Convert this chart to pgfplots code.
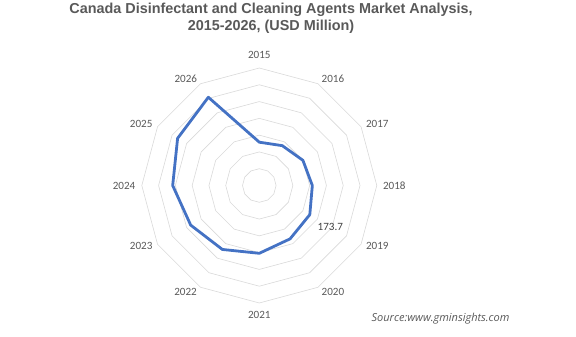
\documentclass[border=0pt]{standalone}
\usepackage{pgfplots}
\pgfplotsset{compat=1.18}
\usepackage{fontspec}
\setmainfont{Carlito}
\newfontfamily\titlefont{Liberation Sans}
\newfontfamily\srcfont{Open Sans}
\definecolor{gridc}{HTML}{D9D9D9}
\definecolor{labc}{HTML}{595959}
\definecolor{linec}{HTML}{4472C4}
\begin{document}
\begin{tikzpicture}
\begin{axis}[
  scale only axis, width=576pt, height=337pt,
  xmin=-772.4, xmax=943.4, ymin=-451.3, ymax=552.6,
  axis lines=none, clip=false,
  every axis plot/.append style={data cs=polar},
]
\path (rel axis cs:0,0) rectangle (rel axis cs:1,1);
% grid rings
\addplot[gridc, line width=0.6pt] coordinates {(90,50)(60,50)(30,50)(0,50)(-30,50)(-60,50)(-90,50)(-120,50)(-150,50)(-180,50)(-210,50)(-240,50)} -- cycle;
\addplot[gridc, line width=0.6pt] coordinates {(90,100)(60,100)(30,100)(0,100)(-30,100)(-60,100)(-90,100)(-120,100)(-150,100)(-180,100)(-210,100)(-240,100)} -- cycle;
\addplot[gridc, line width=0.6pt] coordinates {(90,150)(60,150)(30,150)(0,150)(-30,150)(-60,150)(-90,150)(-120,150)(-150,150)(-180,150)(-210,150)(-240,150)} -- cycle;
\addplot[gridc, line width=0.6pt] coordinates {(90,200)(60,200)(30,200)(0,200)(-30,200)(-60,200)(-90,200)(-120,200)(-150,200)(-180,200)(-210,200)(-240,200)} -- cycle;
\addplot[gridc, line width=0.6pt] coordinates {(90,250)(60,250)(30,250)(0,250)(-30,250)(-60,250)(-90,250)(-120,250)(-150,250)(-180,250)(-210,250)(-240,250)} -- cycle;
\addplot[gridc, line width=0.6pt] coordinates {(90,300)(60,300)(30,300)(0,300)(-30,300)(-60,300)(-90,300)(-120,300)(-150,300)(-180,300)(-210,300)(-240,300)} -- cycle;
\addplot[gridc, line width=0.6pt] coordinates {(90,350)(60,350)(30,350)(0,350)(-30,350)(-60,350)(-90,350)(-120,350)(-150,350)(-180,350)(-210,350)(-240,350)} -- cycle;
% data series (angle = year position, radius = USD Million)
\addplot[linec, line width=2.8pt, line join=round] coordinates {
(90,129) (60,137) (30,150) (0,158) (-30,173.7) (-60,183.5) (-90,202) (-120,220) (-150,236) (-180,258) (-210,281) (-240,303.5)} -- cycle;
% category labels
\begin{scope}[every node/.style={text=labc, font=\fontsize{11.1}{12}\selectfont}]
\node at (axis cs:0,389) {2015};
\node at (axis cs:219.5,317) {2016};
\node at (axis cs:351.5,182) {2017};
\node at (axis cs:402,0) {2018};
\node at (axis cs:351.5,-181) {2019};
\node at (axis cs:219.5,-316) {2020};
\node at (axis cs:0,-386) {2021};
\node at (axis cs:-219.5,-316) {2022};
\node at (axis cs:-352,-181) {2023};
\node at (axis cs:-403,0) {2024};
\node at (axis cs:-352,182) {2025};
\node at (axis cs:-219,317) {2026};
\end{scope}
\node[text=black!75, font=\fontsize{11.1}{12}\selectfont] at (axis cs:211.5,-124) {173.7};
% title
\node[text=labc, font=\titlefont\bfseries\fontsize{14.4}{16.5}\selectfont, align=center] at (axis cs:35,498) {Canada Disinfectant and Cleaning Agents Market Analysis,\\2015-2026, (USD Million)};
% source
\node[text=labc, font=\srcfont\itshape\fontsize{11}{12}\selectfont] at (axis cs:540,-398) {Source:www.gminsights.com};
\end{axis}
\end{tikzpicture}
\end{document}
